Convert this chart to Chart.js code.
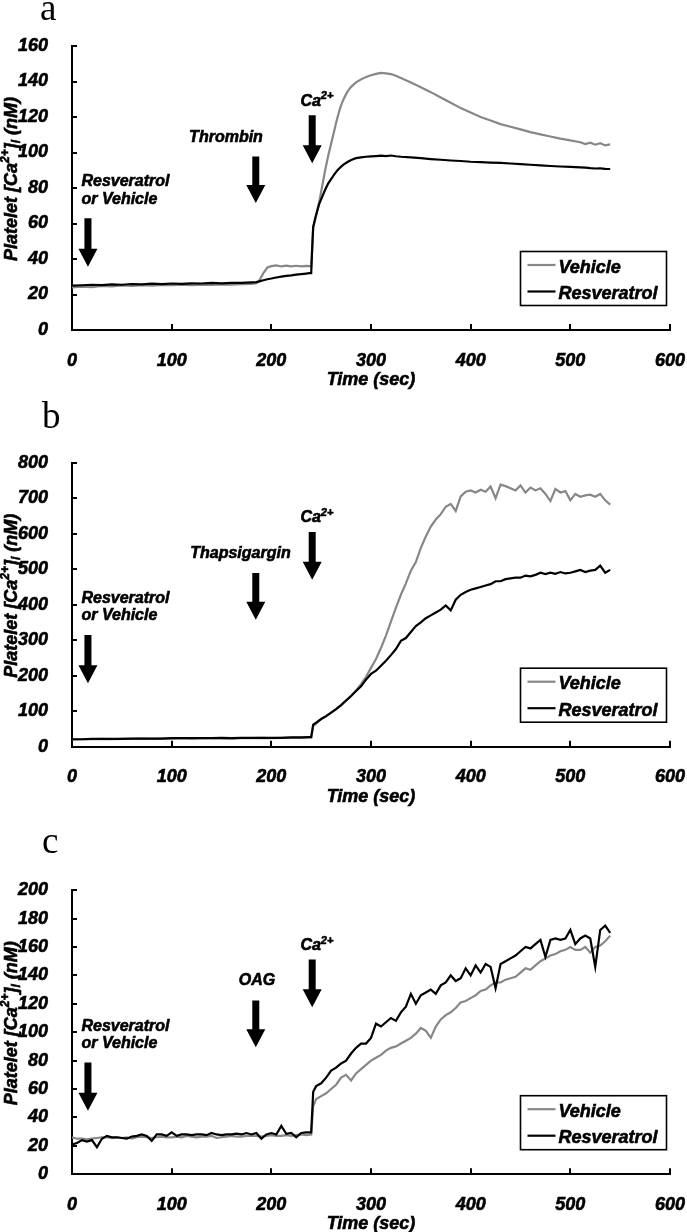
<!DOCTYPE html>
<html><head><meta charset="utf-8">
<script src="https://cdn.jsdelivr.net/npm/chart.js@4.4.0/dist/chart.umd.min.js"></script>
<style>
html,body{margin:0;padding:0;background:#fff;}
body{width:687px;height:1232px;position:relative;overflow:hidden;}
.panel{position:absolute;left:0;width:687px;}
canvas{display:block;}
</style></head><body>
<div class="panel" style="top:0px"><canvas id="ca" width="687" height="400"></canvas></div>
<div class="panel" style="top:400px"><canvas id="cb" width="687" height="416"></canvas></div>
<div class="panel" style="top:816px"><canvas id="cc" width="687" height="416"></canvas></div>
<script>
// ---------- DATA ----------
const seriesNames = ['Vehicle', 'Resveratrol'];
const xTicks = [0, 100, 200, 300, 400, 500, 600];

// Panel a (Thrombin)
const timeA = [0,10,20,30,40,50,60,70,80,90,100,110,120,130,140,150,160,170,180,
  185,188,192,196,200,205,210,215,220,225,230,235,238,240,241,242,244,246,248,
  251,254,257,260,263,266,269,272,276,280,285,290,295,300,305,310,315,320,325,330,
  340,350,360,370,380,390,400,410,420,430,440,450,460,470,480,490,500,510,
  515,520,525,530,535,540];
const vehicleA = [24.0,24.4,24.2,24.8,24.6,25.1,24.9,25.3,25.0,25.4,25.2,25.5,25.3,25.6,25.4,25.7,25.5,25.8,26.0,
  26.3,28.0,32.0,35.2,36.0,36.4,35.8,36.3,35.9,36.2,35.8,36.1,36.0,36.0,46,58,62,67,72,
  81,90,98,105,112,119,125,129.5,134,137,139.5,141.2,142.5,143.5,144.3,144.8,144.6,144.2,143.2,142.0,
  139.5,136.8,134,131,128,125,122.5,120,118,116,114.5,113,111.5,110.2,109,107.8,106.8,105.8,
  104.8,105.5,104.4,105.2,104.0,104.6];
const resveratrolA = [25.0,25.2,25.5,25.3,25.7,25.5,25.9,25.7,26.1,25.9,26.2,26.0,26.3,26.2,26.5,26.3,26.6,26.5,26.8,
  27.0,27.4,28.0,28.6,29.0,29.6,30.1,30.5,30.8,31.2,31.5,31.8,32.0,32.0,46,58,63,67,71,
  75,79,82.5,85,87.5,89.8,91.5,93,94.5,95.8,96.8,97.3,97.6,97.8,98,98.2,98,98.3,97.9,97.6,
  97.2,96.8,96.3,95.9,95.5,95.2,94.8,94.6,94.3,94.1,93.8,93.4,93.1,92.8,92.4,92.1,91.9,91.6,
  91.5,91.2,91.0,91.1,90.8,90.7];
const yTicksA = [0,20,40,60,80,100,120,140,160];

// Panel b (Thapsigargin)
const timeB = [0,10,20,30,40,50,60,70,80,90,100,110,120,130,140,150,160,170,180,190,200,210,220,230,
  238,240,242,245,
  250,255,260,265,270,275,280,285,290,295,300,305,310,315,320,325,330,335,340,345,
  350,355,360,365,370,375,380,385,390,395,400,405,410,415,420,425,430,435,440,445,
  450,455,460,465,470,475,480,485,490,495,500,505,510,515,520,525,530,535,540];
const vehicleB = [20,21,21,22,21,22,22,23,22,23,23,24,23,24,24,24,23,24,24,25,24,25,25,25,
  26,26,58,65,
  78,86,96,106,117,130,143,158,176,197,222,247,278,313,352,392,428,460,496,520,
  560,592,620,640,655,676,684,664,705,718,722,716,724,718,733,700,738,734,728,722,
  736,716,730,722,728,712,692,726,716,720,694,712,704,708,710,704,712,694,682];
const resveratrolB = [21,21,22,22,22,22,23,23,23,23,24,24,24,24,24,25,24,25,25,25,25,25,26,26,
  27,27,62,68,
  78,86,96,106,117,130,143,157,170,189,205,214,228,242,258,275,298,306,323,340,
  350,362,370,378,386,398,384,414,428,436,442,446,450,454,458,466,466,472,474,476,
  476,482,480,484,490,486,490,487,492,488,490,494,498,492,496,498,510,490,498];
const yTicksB = [0,100,200,300,400,500,600,700,800];

// Panel c (OAG)
const timeC = [0,5,10,15,20,25,30,35,40,45,50,55,60,65,70,75,80,85,90,95,100,105,110,115,120,
  125,130,135,140,145,150,155,160,165,170,175,180,185,190,195,200,205,210,215,220,225,230,235,240,
  242,
  245,250,255,260,265,270,275,280,285,290,295,300,305,310,315,320,325,330,335,340,
  345,350,355,360,365,370,375,380,385,390,395,400,405,410,415,420,425,430,435,440,
  445,450,455,460,465,470,475,480,485,490,495,500,505,510,515,520,525,530,535,540];
const vehicleC = [26,25,25,24.5,25,25.5,26,26,25.5,26,25.5,26,25,26,26.5,26,25.5,26,26.5,26,26,26.5,26,27,26.5,
  26,26.5,26.5,27,25.5,26,26.5,27,26.5,26.5,27,27,27,26.5,27,27.5,27,27,27.5,27,27.5,28,27.5,28,
  48,
  53,55,57,60,63,68,70,66,71,74,77,80,82,84,87,89,90,92,94,96,
  99,103,101,96,104,109,112,114,117,121,122,124,126,129,130,133,135,135,137,138,
  139,142,145,144,147,150,152,154,155,157,158,160,158,158,160,156,160,161,164,168];
const resveratrolC = [21,22,24,23,24,19,25,27,26,26,25.5,25,26.5,27,28,27,23.5,28,28,27,29.5,27,28,28,27.5,
  28,28,27.5,29,28,27.5,28,28,28.5,28,29,28,29,25,28,29,28,34,28.5,29,26,29,29.5,29.5,
  58,
  62,64,68,73,75,78,80,85,89,92,92,96,106,104,107,110,108,114,118,127,
  120,126,128,130,127,133,135,140,136,138,145,140,147,142,148,146,131,148,150,152,
  154,157,160,159,162,165,153,165,166,165,166,172,162,166,168,166,146,172,175,170];
const yTicksC = [0,20,40,60,80,100,120,140,160,180,200];

// ---------- STYLE / LAYOUT ----------
const FONT = '"Liberation Sans", Arial, Helvetica, sans-serif';
const SERIF = '"Liberation Serif", "Times New Roman", serif';
const GRAY = '#878787';
const HEAVY = 0.6; // extra stroke to mimic the heavy print weight

function drawRich(ctx, parts, x, y, size, align) {
  const f = k => 'italic bold ' + (k ? Math.round(size * 0.66) : size) + 'px ' + FONT;
  let w = 0;
  parts.forEach(([t, k]) => { ctx.font = f(k); w += ctx.measureText(t).width; });
  let cx = align === 'center' ? x - w / 2 : (align === 'right' ? x - w : x);
  ctx.textAlign = 'left';
  ctx.textBaseline = 'alphabetic';
  ctx.strokeStyle = '#000';
  ctx.lineWidth = HEAVY;
  parts.forEach(([t, k]) => {
    ctx.font = f(k);
    const dy = k === 1 ? -size * 0.4 : (k === -1 ? size * 0.22 : 0);
    ctx.fillText(t, cx, y + dy);
    ctx.strokeText(t, cx, y + dy);
    cx += ctx.measureText(t).width;
  });
}

function decor(cfg) {
  return {
    id: 'decor',
    afterDraw(chart) {
      const {ctx, chartArea: ca, scales: {x, y}} = chart;
      ctx.save();
      ctx.fillStyle = '#000';
      ctx.strokeStyle = '#000';
      // inward tick marks
      ctx.lineWidth = 2;
      x.ticks.forEach(tk => {
        const px = Math.round(x.getPixelForValue(tk.value));
        ctx.beginPath(); ctx.moveTo(px, ca.bottom); ctx.lineTo(px, ca.bottom - 6); ctx.stroke();
      });
      y.ticks.forEach(tk => {
        const py = Math.round(y.getPixelForValue(tk.value));
        ctx.beginPath(); ctx.moveTo(ca.left, py); ctx.lineTo(ca.left + 5, py); ctx.stroke();
      });
      // x title
      drawRich(ctx, [['Time (sec)', 0]], (ca.left + ca.right) / 2, ca.bottom + 55, 18, 'center');
      // y title
      ctx.save();
      ctx.translate(10, (ca.top + ca.bottom) / 2 - 9);
      ctx.rotate(-Math.PI / 2);
      drawRich(ctx, [['Platelet [Ca', 0], ['2+', 1], [']', 0], ['i', -1], [' (nM)', 0]], 0, 6.5, 18, 'center');
      ctx.restore();
      // arrows
      ctx.fillStyle = '#000';
      cfg.arrows.forEach(a => {
        const px = x.getPixelForValue(a.t);
        const top = y.getPixelForValue(a.top);
        const tip = y.getPixelForValue(a.tip);
        const hb = tip - 18;
        ctx.beginPath();
        ctx.moveTo(px - 3.5, top); ctx.lineTo(px + 3.5, top); ctx.lineTo(px + 3.5, hb);
        ctx.lineTo(px + 9.5, hb); ctx.lineTo(px, tip); ctx.lineTo(px - 9.5, hb);
        ctx.lineTo(px - 3.5, hb); ctx.closePath(); ctx.fill();
      });
      // annotation text
      cfg.texts.forEach(tx => {
        const px = x.getPixelForValue(tx.t);
        const py = y.getPixelForValue(tx.v) + 5.8;
        drawRich(ctx, tx.parts, px, py, 16, tx.align);
      });
      // legend
      const bw = 146, bh = 54;
      const bx = ca.right - 3.5 - bw, by = ca.bottom - 24.5 - bh;
      ctx.strokeStyle = '#000';
      ctx.lineWidth = 1.6;
      ctx.strokeRect(bx, by, bw, bh);
      const rows = [[seriesNames[0], GRAY, by + 13.5], [seriesNames[1], '#000', by + 40]];
      rows.forEach(([name, col, ry]) => {
        ctx.strokeStyle = col; ctx.lineWidth = 2.2;
        ctx.beginPath(); ctx.moveTo(bx + 7, ry); ctx.lineTo(bx + 35, ry); ctx.stroke();
        ctx.fillStyle = '#000';
        drawRich(ctx, [[name, 0]], bx + 38, ry + 7.5, 18, 'left');
      });
      // panel letter
      ctx.fillStyle = '#000';
      ctx.font = '37px ' + SERIF;
      ctx.textAlign = 'left'; ctx.textBaseline = 'alphabetic';
      ctx.fillText(cfg.letter, cfg.letterX, cfg.letterY);
      ctx.restore();
    }
  };
}

function makeChart(id, cfg) {
  const pts = (ts, vs) => ts.map((t, i) => ({x: t, y: vs[i]}));
  const tickFont = {family: FONT, size: 18, weight: 'bold', style: 'italic'};
  return new Chart(document.getElementById(id), {
    type: 'line',
    data: {
      datasets: [
        {label: seriesNames[1], data: pts(cfg.time, cfg.res), borderColor: '#000', borderWidth: 2.2, pointRadius: 0, tension: 0, fill: false},
        {label: seriesNames[0], data: pts(cfg.time, cfg.veh), borderColor: GRAY, borderWidth: 2.2, pointRadius: 0, tension: 0, fill: false}
      ]
    },
    options: {
      responsive: false, animation: false, events: [],
      layout: {padding: {top: cfg.padTop, right: 17, left: 0, bottom: 0}},
      plugins: {legend: {display: false}, tooltip: {enabled: false}},
      scales: {
        x: {
          type: 'linear', min: 0, max: 600,
          afterBuildTicks: s => { s.ticks = xTicks.map(v => ({value: v})); },
          ticks: {font: tickFont, color: '#000', padding: 12, maxRotation: 0, textStrokeColor: '#000', textStrokeWidth: HEAVY},
          grid: {display: false},
          border: {display: true, color: '#000', width: 2},
          afterFit: s => { s.height = cfg.xh; s.paddingLeft = 0; s.paddingRight = 0; }
        },
        y: {
          min: 0, max: cfg.yTicks[cfg.yTicks.length - 1],
          afterBuildTicks: s => { s.ticks = cfg.yTicks.map(v => ({value: v})); },
          ticks: {font: tickFont, color: '#000', padding: 16, textStrokeColor: '#000', textStrokeWidth: HEAVY},
          grid: {display: false},
          border: {display: true, color: '#000', width: 2},
          afterFit: s => { s.width = 72; s.paddingTop = 0; s.paddingBottom = 0; }
        }
      }
    },
    plugins: [decor(cfg)]
  });
}

const caTxt = [['Ca', 0], ['2+', 1]];

makeChart('ca', {
  time: timeA, veh: vehicleA, res: resveratrolA, yTicks: yTicksA,
  padTop: 46, xh: 70, letter: 'a', letterX: 40, letterY: 20,
  arrows: [{t: 16, top: 63, tip: 35.7}, {t: 184.4, top: 97.8, tip: 71.5}, {t: 241, top: 121, tip: 94}],
  texts: [
    {t: 9.5, v: 84.2, parts: [['Resveratrol', 0]], align: 'left'},
    {t: 9.5, v: 74.4, parts: [['or Vehicle', 0]], align: 'left'},
    {t: 154.5, v: 109.4, parts: [['Thrombin', 0]], align: 'center'},
    {t: 245.7, v: 129.6, parts: caTxt, align: 'center'}
  ]
});

makeChart('cb', {
  time: timeB, veh: vehicleB, res: resveratrolB, yTicks: yTicksB,
  padTop: 62.7, xh: 69.3, letter: 'b', letterX: 42, letterY: 28.4,
  arrows: [{t: 16, top: 315, tip: 178.5}, {t: 184.4, top: 489, tip: 357.5}, {t: 241, top: 605, tip: 470}],
  texts: [
    {t: 9.5, v: 421, parts: [['Resveratrol', 0]], align: 'left'},
    {t: 9.5, v: 372, parts: [['or Vehicle', 0]], align: 'left'},
    {t: 169, v: 547, parts: [['Thapsigargin', 0]], align: 'center'},
    {t: 245.7, v: 648, parts: caTxt, align: 'center'}
  ]
});

makeChart('cc', {
  time: timeC, veh: vehicleC, res: resveratrolC, yTicks: yTicksC,
  padTop: 74.2, xh: 57.8, letter: 'c', letterX: 42, letterY: 37,
  arrows: [{t: 16, top: 78.7, tip: 44.6}, {t: 184.4, top: 122.3, tip: 89.4}, {t: 241, top: 151.2, tip: 117.5}],
  texts: [
    {t: 9.5, v: 105.2, parts: [['Resveratrol', 0]], align: 'left'},
    {t: 9.5, v: 93, parts: [['or Vehicle', 0]], align: 'left'},
    {t: 185.6, v: 137.5, parts: [['OAG', 0]], align: 'center'},
    {t: 245.7, v: 162, parts: caTxt, align: 'center'}
  ]
});
</script>
</body></html>
